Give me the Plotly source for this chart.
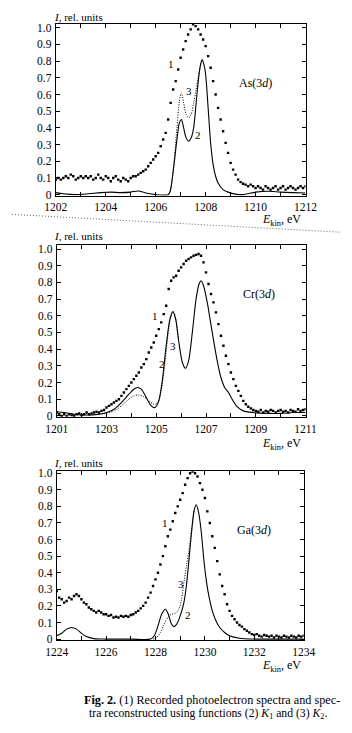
import plotly.graph_objects as go

W, H = 352, 733

# ---------------- As(3d) panel ----------------
as_start = 1202.0
as_dots = [0.09, 0.10, 0.09, 0.10, 0.11, 0.10, 0.12, 0.11, 0.09, 0.10,
           0.11, 0.10, 0.11, 0.10, 0.11, 0.09, 0.10, 0.12, 0.10, 0.09,
           0.11, 0.10, 0.08, 0.10, 0.11, 0.09, 0.08, 0.10, 0.09, 0.08,
           0.10, 0.11, 0.11, 0.12, 0.13, 0.14, 0.15, 0.17, 0.19, 0.21,
           0.23, 0.25, 0.29, 0.33, 0.37, 0.45, 0.55, 0.63, 0.68, 0.75,
           0.82, 0.87, 0.92, 0.96, 0.99, 1.02, 1.01, 0.99, 0.96, 0.93,
           0.89, 0.83, 0.76, 0.68, 0.60, 0.52, 0.45, 0.38, 0.31, 0.25,
           0.19, 0.15, 0.12, 0.09, 0.075, 0.065, 0.06, 0.05, 0.06, 0.05,
           0.04, 0.05, 0.04, 0.03, 0.05, 0.04, 0.03, 0.04, 0.05, 0.03,
           0.04, 0.05, 0.03, 0.04, 0.05, 0.04, 0.03, 0.04, 0.05, 0.04,
           0.05]
as_k1_E = [1202.0, 1202.3, 1202.8, 1203.3, 1203.8, 1204.2, 1204.6, 1205.0, 1205.3, 1205.6,
           1206.0, 1206.5, 1206.58, 1206.65, 1206.75, 1206.85, 1206.95, 1207.03, 1207.12, 1207.22,
           1207.32, 1207.42, 1207.52, 1207.62, 1207.72, 1207.8, 1207.86, 1207.93, 1208.0, 1208.1,
           1208.2, 1208.3, 1208.4, 1208.5, 1208.7, 1208.9, 1209.2, 1209.5, 1210.0, 1210.5,
           1211.0, 1211.5, 1212.0]
as_k1_I = [0.012, 0.005, 0.0, 0.005, 0.012, 0.015, 0.012, 0.015, 0.022, 0.01,
           0.0, 0.0, 0.02, 0.08, 0.2, 0.33, 0.43, 0.45, 0.40, 0.34,
           0.32, 0.34, 0.40, 0.55, 0.70, 0.78, 0.81, 0.78, 0.72, 0.52,
           0.31, 0.18, 0.11, 0.07, 0.03, 0.015, 0.003, 0.0, 0.015, 0.02,
           0.015, 0.012, 0.01]
as_k2_E = [1206.5, 1206.58, 1206.65, 1206.75, 1206.85, 1206.95, 1207.03, 1207.12, 1207.22, 1207.32,
           1207.42, 1207.52, 1207.62, 1207.72, 1207.8, 1207.86]
as_k2_I = [0.0, 0.02, 0.08, 0.22, 0.40, 0.56, 0.61, 0.55, 0.48, 0.46,
           0.48, 0.55, 0.63, 0.72, 0.78, 0.81]

# ---------------- Cr(3d) panel ----------------
cr_start = 1201.0
cr_dots = [0.02, 0.01, 0.0, 0.01, 0.0, 0.01, 0.005, 0.0, 0.01, 0.015,
           0.005, 0.01, 0.02, 0.01, 0.015, 0.02, 0.025, 0.02, 0.03, 0.035,
           0.05, 0.06, 0.07, 0.08, 0.09, 0.10, 0.12, 0.14, 0.16, 0.18,
           0.20, 0.22, 0.24, 0.26, 0.29, 0.31, 0.34, 0.38, 0.41, 0.44,
           0.48, 0.52, 0.56, 0.61, 0.66, 0.76, 0.81, 0.83, 0.84, 0.87,
           0.89, 0.91, 0.93, 0.94, 0.95, 0.96, 0.965, 0.97, 0.96, 0.92,
           0.86, 0.79, 0.73, 0.68, 0.62, 0.55, 0.48, 0.42, 0.36, 0.31,
           0.26, 0.22, 0.18, 0.15, 0.12, 0.09, 0.07, 0.055, 0.045, 0.035,
           0.03, 0.025, 0.035, 0.02, 0.03, 0.025, 0.035, 0.03, 0.02, 0.03,
           0.035, 0.025, 0.03, 0.02, 0.035, 0.03, 0.025, 0.04, 0.03, 0.035,
           0.04]
cr_k1_E = [1201.0, 1201.3, 1201.7, 1202.2, 1202.7, 1203.0, 1203.3, 1203.6, 1203.9, 1204.1,
           1204.25, 1204.4, 1204.6, 1204.8, 1204.95, 1205.1, 1205.25, 1205.4, 1205.55, 1205.67,
           1205.78, 1205.9, 1206.05, 1206.17, 1206.3, 1206.45, 1206.6, 1206.72, 1206.8, 1206.9,
           1207.05, 1207.25, 1207.45, 1207.6, 1207.75, 1207.9, 1208.05, 1208.25, 1208.5, 1208.9,
           1209.5, 1210.0, 1210.5, 1211.0]
cr_k1_I = [0.025, 0.02, 0.01, 0.005, 0.01, 0.02, 0.04, 0.08, 0.13, 0.16,
           0.17, 0.16, 0.11, 0.06, 0.05, 0.09, 0.22, 0.42, 0.58, 0.625,
           0.58, 0.45, 0.32, 0.285, 0.33, 0.50, 0.70, 0.79, 0.81, 0.78,
           0.68, 0.50, 0.33, 0.23, 0.17, 0.14, 0.10, 0.055, 0.03, 0.02,
           0.015, 0.015, 0.02, 0.02]
cr_k2_E = [1202.7, 1203.0, 1203.3, 1203.6, 1203.9, 1204.1, 1204.3, 1204.5, 1204.7, 1204.9,
           1205.05, 1205.2, 1205.35, 1205.5, 1205.62, 1205.7, 1205.8, 1205.9]
cr_k2_I = [0.01, 0.015, 0.03, 0.06, 0.10, 0.12, 0.125, 0.115, 0.09, 0.07,
           0.075, 0.15, 0.32, 0.52, 0.61, 0.62, 0.57, 0.45]

# ---------------- Ga(3d) panel ----------------
ga_start = 1224.0
ga_dots = [0.29, 0.25, 0.24, 0.22, 0.23, 0.25, 0.24, 0.26, 0.27, 0.26,
           0.24, 0.22, 0.21, 0.19, 0.18, 0.17, 0.16, 0.17, 0.16, 0.15,
           0.15, 0.14, 0.145, 0.13, 0.135, 0.13, 0.14, 0.135, 0.14, 0.135,
           0.145, 0.15, 0.16, 0.17, 0.185, 0.20, 0.22, 0.25, 0.28, 0.32,
           0.36, 0.40, 0.45, 0.50, 0.56, 0.62, 0.66, 0.71, 0.76, 0.80,
           0.84, 0.88, 0.93, 0.97, 1.0, 1.01, 1.0, 0.98, 0.94, 0.90,
           0.85, 0.77, 0.70, 0.62, 0.55, 0.47, 0.39, 0.32, 0.27, 0.21,
           0.17, 0.14, 0.12, 0.10, 0.085, 0.075, 0.06, 0.05, 0.04, 0.03,
           0.025, 0.03, 0.02, 0.015, 0.025, 0.02, 0.015, 0.02, 0.01, 0.02,
           0.015, 0.01, 0.02, 0.015, 0.01, 0.02, 0.015, 0.01, 0.02, 0.015,
           0.02]
ga_k1_E = [1224.0, 1224.2, 1224.4, 1224.6, 1224.8, 1225.0, 1225.2, 1225.5, 1226.0, 1227.0,
           1227.8, 1227.95, 1228.1, 1228.25, 1228.4, 1228.52, 1228.62, 1228.74, 1228.86, 1229.0,
           1229.15, 1229.25, 1229.35, 1229.47, 1229.57, 1229.65, 1229.75, 1229.85, 1229.97, 1230.07,
           1230.16, 1230.3, 1230.42, 1230.6, 1230.8, 1231.0, 1231.4, 1232.0, 1233.0, 1234.0]
ga_k1_I = [0.02, 0.035, 0.06, 0.07, 0.06, 0.035, 0.015, 0.003, 0.0, 0.0,
           0.0, 0.02, 0.08, 0.15, 0.18, 0.15, 0.10, 0.075, 0.09, 0.14,
           0.22, 0.32, 0.47, 0.66, 0.78, 0.81, 0.76, 0.65, 0.46, 0.34,
           0.26, 0.17, 0.12, 0.07, 0.04, 0.02, 0.005, 0.0, 0.0, 0.0]
ga_k2_E = [1227.9, 1228.05, 1228.2, 1228.35, 1228.5, 1228.65, 1228.8, 1228.95, 1229.05, 1229.15,
           1229.25, 1229.35, 1229.47, 1229.57]
ga_k2_I = [0.0, 0.01, 0.04, 0.09, 0.13, 0.15, 0.155, 0.18, 0.24, 0.34,
           0.44, 0.53, 0.67, 0.78]

y_tick_vals = [0, 0.1, 0.2, 0.3, 0.4, 0.5, 0.6, 0.7, 0.8, 0.9, 1.0]
y_tick_text = ["0", "0.1", "0.2", "0.3", "0.4", "0.5", "0.6", "0.7", "0.8", "0.9", "1.0"]

panels = [
    dict(start=as_start, dots=as_dots, k1=(as_k1_E, as_k1_I), k2=(as_k2_E, as_k2_I),
         xr=[1202, 1212], xlab=[1202, 1204, 1206, 1208, 1210, 1212],
         name="As(3<i>d</i>)", name_pos=(1210.0, 0.67),
         labels=[("1", 1206.6, 0.78), ("3", 1207.33, 0.62), ("2", 1207.68, 0.36)],
         xdom=[47, 315], ydom=[20, 194], yr=[-0.006, 1.024],
         ylab_y=13, xlab_y=219),
    dict(start=cr_start, dots=cr_dots, k1=(cr_k1_E, cr_k1_I), k2=(cr_k2_E, cr_k2_I),
         xr=[1201, 1211], xlab=[1201, 1203, 1205, 1207, 1209, 1211],
         name="Cr(3<i>d</i>)", name_pos=(1209.15, 0.73),
         labels=[("1", 1204.93, 0.60), ("2", 1205.22, 0.31), ("3", 1205.68, 0.42)],
         xdom=[48, 315], ydom=[244, 418], yr=[-0.006, 1.024],
         ylab_y=235, xlab_y=445),
    dict(start=ga_start, dots=ga_dots, k1=(ga_k1_E, ga_k1_I), k2=(ga_k2_E, ga_k2_I),
         xr=[1224, 1234], xlab=[1224, 1226, 1228, 1230, 1232, 1234],
         name="Ga(3<i>d</i>)", name_pos=(1232.0, 0.66),
         labels=[("1", 1228.4, 0.70), ("3", 1229.03, 0.33), ("2", 1229.3, 0.145)],
         xdom=[48, 313], ydom=[473, 644], yr=[-0.006, 1.012],
         ylab_y=465, xlab_y=670),
]

SERIF = "Liberation Serif"
fig = go.Figure()
annotations = []
layout = {}

for i, p in enumerate(panels):
    n = i + 1
    xa = "x" if n == 1 else f"x{n}"
    ya = "y" if n == 1 else f"y{n}"
    E = [round(p["start"] + 0.1 * k, 1) for k in range(len(p["dots"]))]
    fig.add_trace(go.Scatter(x=E, y=p["dots"], mode="markers", xaxis=xa, yaxis=ya,
                             marker=dict(symbol="square", size=2.4, color="black"),
                             showlegend=False, hoverinfo="skip"))
    fig.add_trace(go.Scatter(x=p["k1"][0], y=p["k1"][1], mode="lines", xaxis=xa, yaxis=ya,
                             line=dict(color="black", width=1.1, shape="spline", smoothing=0.8),
                             showlegend=False, hoverinfo="skip"))
    fig.add_trace(go.Scatter(x=p["k2"][0], y=p["k2"][1], mode="lines", xaxis=xa, yaxis=ya,
                             line=dict(color="black", width=1, dash="1px,1.5px", shape="spline", smoothing=0.8),
                             showlegend=False, hoverinfo="skip"))
    axis_common = dict(showline=True, mirror="ticks", linecolor="black", linewidth=1,
                       ticks="inside", ticklen=4, tickcolor="black", showgrid=False,
                       zeroline=False, tickfont=dict(family=SERIF, size=11.5, color="black"))
    layout["xaxis" if n == 1 else f"xaxis{n}"] = dict(
        domain=[p["xdom"][0] / W, p["xdom"][1] / W], range=p["xr"], anchor=ya,
        tickmode="array", tickvals=p["xlab"], ticktext=[str(v) for v in p["xlab"]],
        ticklabelstandoff=1,
        minor=dict(ticks="inside", ticklen=4, tickcolor="black", dtick=1, tick0=p["xr"][0],
                   showgrid=False),
        **axis_common)
    layout["yaxis" if n == 1 else f"yaxis{n}"] = dict(
        domain=[1 - p["ydom"][1] / H, 1 - p["ydom"][0] / H], range=p["yr"], anchor=xa,
        tickmode="array", tickvals=y_tick_vals, ticktext=y_tick_text, ticklabelstandoff=1,
        **axis_common)
    annotations.append(dict(text=p["name"], x=p["name_pos"][0], y=p["name_pos"][1],
                            xref=xa, yref=ya, showarrow=False,
                            font=dict(family=SERIF, size=12, color="black")))
    for t, lx, ly in p["labels"]:
        annotations.append(dict(text=t, x=lx, y=ly, xref=xa, yref=ya, showarrow=False,
                                font=dict(family=SERIF, size=11, color="black")))
    annotations.append(dict(text="<i>I</i>, rel. units", x=43 / W, y=1 - p["ylab_y"] / H,
                            xref="paper", yref="paper", xanchor="left", yanchor="middle",
                            showarrow=False, font=dict(family=SERIF, size=11, color="black")))
    annotations.append(dict(text="<i>E</i><sub>kin</sub>, eV", x=312 / W, y=1 - p["xlab_y"] / H,
                            xref="paper", yref="paper", xanchor="right", yanchor="middle",
                            showarrow=False, font=dict(family=SERIF, size=12, color="black")))

annotations.append(dict(text="<b>Fig. 2.</b> (1) Recorded photoelectron spectra and spec-",
                        x=75 / W, y=1 - 705 / H, xref="paper", yref="paper",
                        xanchor="left", yanchor="middle", showarrow=False,
                        font=dict(family=SERIF, size=12.2, color="black")))
annotations.append(dict(text="tra reconstructed using functions (2) <i>K</i><sub>1</sub> and (3) <i>K</i><sub>2</sub>.",
                        x=81 / W, y=1 - 719 / H, xref="paper", yref="paper",
                        xanchor="left", yanchor="middle", showarrow=False,
                        font=dict(family=SERIF, size=11.7, color="black")))

shapes = [dict(type="line", xref="paper", yref="paper", x0=0, y0=1 - 213 / H, x1=1, y1=1 - 231 / H,
               line=dict(color="#666666", width=1, dash="1px,2px"))]

fig.update_layout(width=W, height=H, margin=dict(l=0, r=0, t=0, b=0),
                  paper_bgcolor="white", plot_bgcolor="white",
                  annotations=annotations, shapes=shapes, **layout)

fig.write_html("out.html")
